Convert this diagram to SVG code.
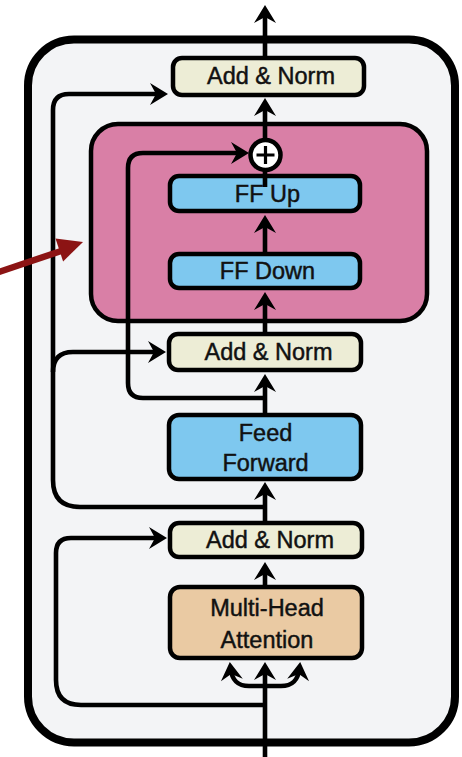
<svg xmlns="http://www.w3.org/2000/svg" width="462" height="757" viewBox="0 0 462 757">
  <style>
    .box { stroke: #000; stroke-width: 4.5; }
    .an { fill: #EDEDD6; }
    .ff { fill: #7EC8EF; }
    .mha { fill: #EACAA3; }
    .lbl { font-family: "Liberation Sans", Arial, sans-serif; font-size: 23.5px; fill: #111; stroke: #111; stroke-width: 0.45; text-anchor: middle; }
    .wire { fill: none; stroke: #000; stroke-width: 4.6; }
    .arr { marker-end: url(#head); }
  </style>
  <defs>
    <!-- notched arrowhead; tip sits 6px past the path end -->
    <marker id="head" viewBox="-13 -12 20 24" refX="0" refY="0" markerWidth="20" markerHeight="24" markerUnits="userSpaceOnUse" orient="auto">
      <path d="M6,0 L-12,-11 L-6,0 L-12,11 Z" fill="#000"/>
    </marker>
  </defs>

  <!-- transformer block frame -->
  <g id="block">
    <rect x="28" y="39.5" width="427" height="703" rx="46" fill="#F3F4F6" stroke="#000" stroke-width="8"/>
  </g>

  <!-- adapter module -->
  <g id="adapter">
    <rect x="91" y="124" width="336" height="197" rx="27" fill="#D97FA6" stroke="#000" stroke-width="4.5"/>
  </g>

  <g id="add-norm-top">
    <rect class="box an" x="173" y="58" width="191" height="37" rx="9"/>
    <text class="lbl" x="271" y="84">Add &amp; Norm</text>
  </g>
  <g id="ff-up">
    <rect class="box ff" x="170" y="176" width="190" height="35" rx="9"/>
    <text class="lbl" x="267.5" y="201.5">FF Up</text>
  </g>
  <g id="ff-down">
    <rect class="box ff" x="170" y="254" width="190" height="34" rx="9"/>
    <text class="lbl" x="267.5" y="279">FF Down</text>
  </g>
  <g id="add-norm-mid">
    <rect class="box an" x="169" y="334" width="192" height="36" rx="9"/>
    <text class="lbl" x="268.5" y="360">Add &amp; Norm</text>
  </g>
  <g id="feed-forward">
    <rect class="box ff" x="169" y="415" width="192" height="64" rx="10"/>
    <text class="lbl" x="265.5" y="441">Feed</text>
    <text class="lbl" x="265.5" y="471">Forward</text>
  </g>
  <g id="add-norm-bottom">
    <rect class="box an" x="170" y="523" width="192" height="34" rx="9"/>
    <text class="lbl" x="270" y="547.5">Add &amp; Norm</text>
  </g>
  <g id="multi-head-attention">
    <rect class="box mha" x="170" y="587" width="192" height="71" rx="10"/>
    <text class="lbl" x="267" y="616">Multi-Head</text>
    <text class="lbl" x="267" y="648">Attention</text>
  </g>

  <g id="connectors">
    <!-- main stream -->
    <path class="wire arr" d="M265,58 V11"/>
    <path class="wire arr" d="M265,139 V104"/>
    <path class="wire" d="M265,171 V187"/>
    <path class="wire arr" d="M265,254 V221"/>
    <path class="wire arr" d="M265,334 V298"/>
    <path class="wire arr" d="M265,415 V380"/>
    <path class="wire arr" d="M265,523 V488"/>
    <path class="wire arr" d="M265,587 V568"/>
    <path class="wire arr" d="M265,757 V668"/>
    <!-- query / key / value fork -->
    <path class="wire arr" d="M265,686 H249 C238,686 232,681 230.5,668"/>
    <path class="wire arr" d="M265,686 H281 C292,686 298,681 299.5,668"/>
    <!-- adapter skip -->
    <path class="wire arr" d="M265,398 H143 Q128,398 128,383 V168 Q128,153 143,153 H243"/>
    <!-- skip around feed-forward -->
    <path class="wire arr" d="M265,507 H80 Q53,507 53,480 V110 Q53,94 69,94 H162"/>
    <path class="wire arr" d="M53,372 Q53,352 73,352 H160"/>
    <!-- skip around attention -->
    <path class="wire arr" d="M265,705 H81 Q56,705 56,680 V553 Q56,538 71,538 H161"/>
  </g>

  <g id="adder">
    <circle cx="265.5" cy="155" r="15" fill="#fff" stroke="#000" stroke-width="4.5"/>
    <path d="M256.5,155 H274.5 M265.5,146 V164" stroke="#000" stroke-width="3.2"/>
  </g>

  <!-- pointer to the adapter -->
  <g id="pointer">
    <path d="M-4,273 L64,250" stroke="#8C1414" stroke-width="6.5" fill="none"/>
    <polygon points="83,242 55.5,238.6 63.1,261.4" fill="#8C1414"/>
  </g>
</svg>
